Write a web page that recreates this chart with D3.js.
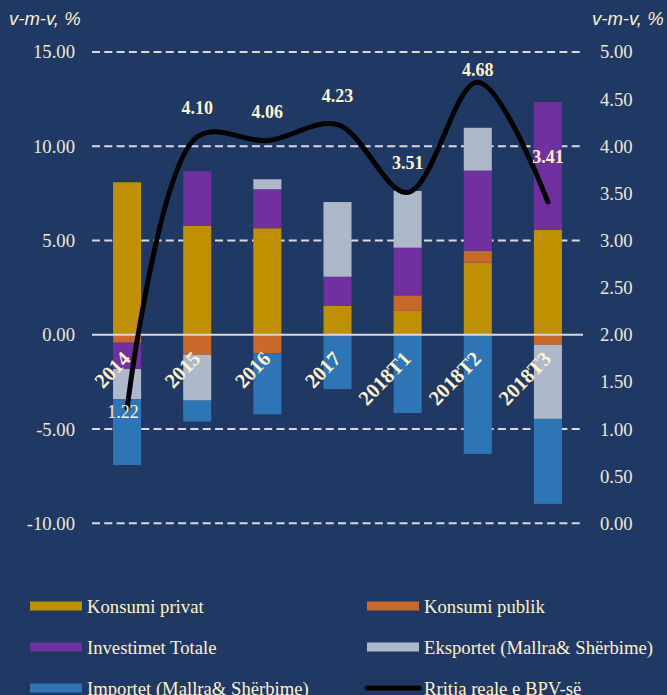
<!DOCTYPE html>
<html>
<head>
<meta charset="utf-8">
<script src="https://cdn.jsdelivr.net/npm/d3@7"></script>
<style>
    body { margin: 0; background: #1f3864; }
    svg { display: block; }
</style>
</head>
<body>
<div id="chart-container"></div>
<script>

const categories = ['2014', '2015', '2016', '2017', '2018T1', '2018T2', '2018T3']

// contributions, percentage points
const konsumiPrivat = [8.09, 5.77, 5.65, 1.54, 1.27, 3.82, 5.56]
const konsumiPublik = [-0.42, -1.06, -0.98, -0.05, 0.82, 0.64, -0.53]
const investimetTotale = [-1.40, 2.90, 2.07, 1.54, 2.53, 4.25, 6.79]
const eksportet = [-1.59, -2.43, 0.53, 3.96, 3.01, 2.27, -3.93]
const importet = [-3.50, -1.11, -3.24, -2.83, -4.15, -6.32, -4.51]

// real GDP growth, right axis
const rritjaBPV = [1.22, 4.10, 4.06, 4.23, 3.51, 4.68, 3.41]

const leftTicks = [-10, -5, 0, 5, 10, 15]
const rightTicks = [0, 0.5, 1, 1.5, 2, 2.5, 3, 3.5, 4, 4.5, 5]

const seriesNames = ['Konsumi privat', 'Konsumi publik', 'Investimet Totale', 'Eksportet (Mallra& Shërbime)', 'Importet (Mallra& Shërbime)']
const lineName = 'Rritja reale e BPV-së'
const axisTitle = 'v-m-v, %'

const renderChart = () => {

    const width = 667
    const height = 695

    //plot area edges, picked to line up with the gridlines
    const plot = { left: 92, right: 583, top: 52, bottom: 523.3 }

    const colors = ['#bf9000', '#c8682a', '#7030a0', '#adb9ca', '#2e75b6']
    const cream = '#fff2cc'
    const tickColor = '#eee8d6'
    const serif = '"Liberation Serif", "Times New Roman", serif'
    const fontSize = 18.67 //14pt

    const svg = d3.select('#chart-container')
        .append('svg')
            .attr('width', width)
            .attr('height', height)

    svg.append('rect')
        .attr('width', width)
        .attr('height', height)
        .attr('fill', '#1f3864')

    //one row per category, one key per series
    const table = categories.map((c, i) => {
        const row = { category: c }
        row[seriesNames[0]] = konsumiPrivat[i]
        row[seriesNames[1]] = konsumiPublik[i]
        row[seriesNames[2]] = investimetTotale[i]
        row[seriesNames[3]] = eksportet[i]
        row[seriesNames[4]] = importet[i]
        return row
    })

    const stacked = d3.stack()
        .keys(seriesNames)
        .offset(d3.stackOffsetDiverging)(table)

    const xScale = d3.scaleBand()
        .domain(categories)
        .range([plot.left, plot.right])
        .paddingInner(0.6)
        .paddingOuter(0.3)

    const yLeft = d3.scaleLinear()
        .domain([-10, 15])
        .range([plot.bottom, plot.top])

    const yRight = d3.scaleLinear()
        .domain([0, 5])
        .range([plot.bottom, plot.top])

    const fmt = d => d.toFixed(2) //plain hyphen for negatives, like the original

    //dashed gridlines (zero line drawn later, solid)
    svg.append('g')
        .selectAll('line')
        .data(leftTicks.filter(d => d !== 0))
        .enter()
        .append('line')
            .attr('x1', plot.left)
            .attr('x2', plot.right)
            .attr('y1', d => yLeft(d))
            .attr('y2', d => yLeft(d))
            .attr('stroke', '#d9d9d9')
            .attr('stroke-width', 2)
            .attr('stroke-dasharray', '8,4.3')

    const leftAxis = d3.axisLeft(yLeft)
        .tickValues(leftTicks)
        .tickSize(0)
        .tickPadding(17)
        .tickFormat(fmt)

    const rightAxis = d3.axisRight(yRight)
        .tickValues(rightTicks)
        .tickSize(0)
        .tickPadding(17)
        .tickFormat(fmt)

    const leftG = svg.append('g')
        .attr('transform', `translate(${plot.left}, 0)`)
        .call(leftAxis)

    const rightG = svg.append('g')
        .attr('transform', `translate(${plot.right}, 0)`)
        .call(rightAxis)

    ;[leftG, rightG].forEach(g => {
        g.select('.domain').remove()
        g.selectAll('text')
            .attr('font-family', serif)
            .attr('font-size', fontSize)
            .attr('fill', tickColor)
    })

    //stacked bars
    svg.append('g')
        .selectAll('g')
        .data(stacked)
        .enter()
        .append('g')
            .attr('fill', (d, i) => colors[i])
        .selectAll('rect')
        .data(d => d)
        .enter()
        .append('rect')
            .attr('x', d => xScale(d.data.category))
            .attr('width', xScale.bandwidth())
            .attr('y', d => yLeft(Math.max(d[0], d[1])))
            .attr('height', d => Math.abs(yLeft(d[0]) - yLeft(d[1])))

    //zero line
    svg.append('line')
        .attr('x1', plot.left)
        .attr('x2', plot.right)
        .attr('y1', yLeft(0))
        .attr('y2', yLeft(0))
        .attr('stroke', '#d9d9d9')
        .attr('stroke-width', 2)

    //rotated category labels sitting just under the zero line
    svg.append('g')
        .selectAll('text')
        .data(categories)
        .enter()
        .append('text')
            .attr('transform', d => `translate(${xScale(d) + xScale.bandwidth() / 2 + 4.5}, ${yLeft(0) + 25}) rotate(-46)`)
            .attr('text-anchor', 'end')
            .attr('font-family', serif)
            .attr('font-weight', 'bold')
            .attr('font-size', 20.5)
            .attr('fill', cream)
            .text(d => d)

    //GDP growth line
    const cx = (d, i) => xScale(categories[i]) + xScale.bandwidth() / 2

    const line = d3.line()
        .x(cx)
        .y(d => yRight(d))
        .curve(d3.curveCatmullRom.alpha(0.5))

    svg.append('path')
        .datum(rritjaBPV)
        .attr('d', line)
        .attr('fill', 'none')
        .attr('stroke', '#000')
        .attr('stroke-width', 5)
        .attr('stroke-linecap', 'round')
        .attr('stroke-linejoin', 'round')

    //label nudges, in px from the point (excel placed some by hand)
    const labelDy = { '2014': 10, '2018T2': -6, '2018T3': -39 }
    const labelDx = { '2014': -4 }

    svg.append('g')
        .selectAll('text')
        .data(rritjaBPV)
        .enter()
        .append('text')
            .attr('x', (d, i) => cx(d, i) + (labelDx[categories[i]] || 0))
            .attr('y', (d, i) => yRight(d) + (labelDy[categories[i]] !== undefined ? labelDy[categories[i]] : -23))
            .attr('text-anchor', 'middle')
            .attr('font-family', serif)
            .attr('font-weight', (d, i) => i === 0 ? 'normal' : 'bold')
            .attr('font-size', 18)
            .attr('fill', cream)
            .text(fmt)

    //axis titles
    ;[9, 592].forEach(x => {
        svg.append('text')
            .attr('x', x)
            .attr('y', 25)
            .attr('font-family', '"Liberation Sans", Arial, sans-serif')
            .attr('font-style', 'italic')
            .attr('font-size', 18.5)
            .attr('fill', cream)
            .text(axisTitle)
    })

    //legend, two columns by three rows
    const legendItems = seriesNames.map((n, i) => ({ name: n, color: colors[i], type: 'box' }))
    legendItems.push({ name: lineName, color: '#000', type: 'line' })

    const legend = svg.append('g')
        .selectAll('g')
        .data(legendItems)
        .enter()
        .append('g')
            .attr('transform', (d, i) => `translate(${i % 2 === 0 ? 30 : 367}, ${606 + Math.floor(i / 2) * 41})`)

    legend.filter(d => d.type === 'box')
        .append('rect')
            .attr('y', -4.5)
            .attr('width', 52)
            .attr('height', 9)
            .attr('fill', d => d.color)

    legend.filter(d => d.type === 'line')
        .append('line')
            .attr('x1', 0)
            .attr('x2', 52)
            .attr('stroke', d => d.color)
            .attr('stroke-width', 5)
            .attr('stroke-linecap', 'round')

    legend.append('text')
        .attr('x', 57)
        .attr('y', 7)
        .attr('font-family', serif)
        .attr('font-size', fontSize)
        .attr('fill', cream)
        .text(d => d.name)
}

renderChart()

</script>
</body>
</html>
